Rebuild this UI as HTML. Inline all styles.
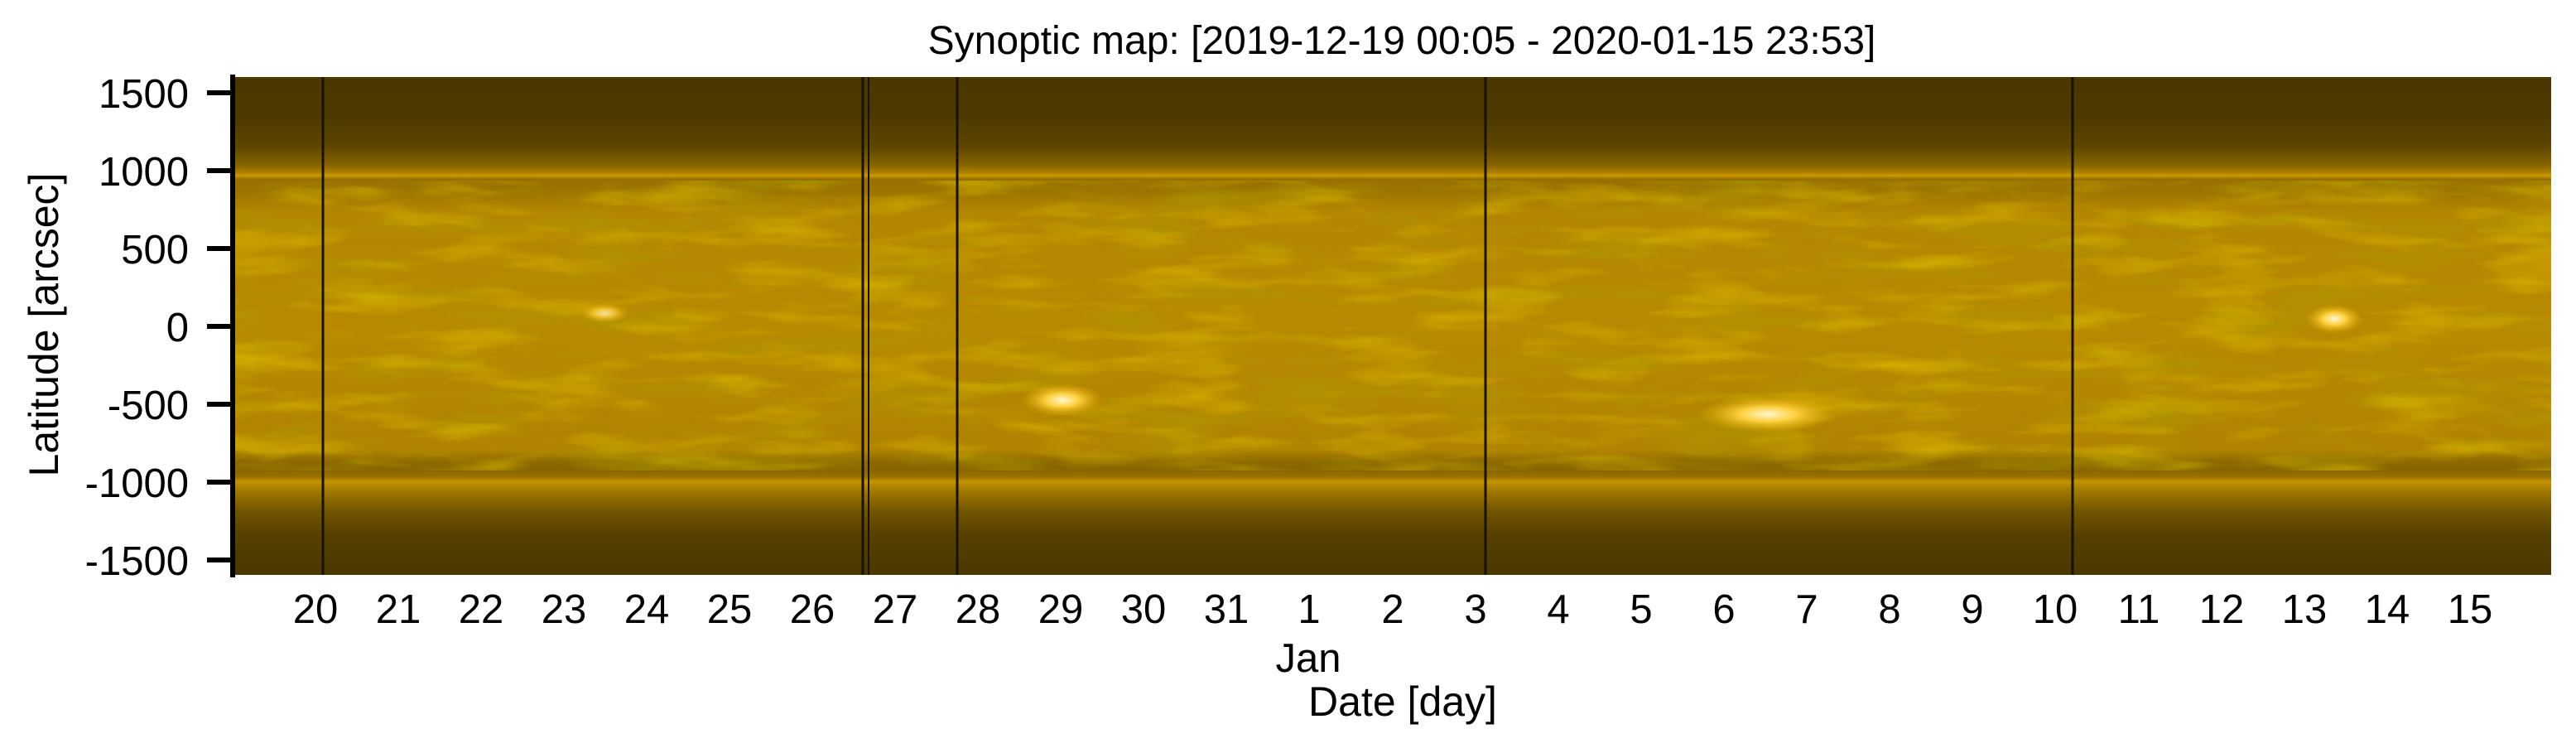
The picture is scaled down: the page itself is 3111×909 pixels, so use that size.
<!DOCTYPE html>
<html><head><meta charset="utf-8"><style>
html,body{margin:0;padding:0;background:#fff;}
body{width:3111px;height:904px;overflow:hidden;}
text{font-family:"Liberation Sans",Helvetica,Arial,sans-serif;fill:#000;}
</style></head><body>
<svg width="3111" height="904" viewBox="0 0 3111 904" xmlns="http://www.w3.org/2000/svg">
<defs>
<linearGradient id="bg" x1="0" y1="93" x2="0" y2="694" gradientUnits="userSpaceOnUse">
<stop offset="0" stop-color="#4a3700"/>
<stop offset="0.08" stop-color="#4d3900"/>
<stop offset="0.14" stop-color="#5e4600"/>
<stop offset="0.18" stop-color="#8a6700"/>
<stop offset="0.195" stop-color="#b88a00"/>
<stop offset="0.198" stop-color="#cd9a00"/>
<stop offset="0.205" stop-color="#956f00"/>
<stop offset="0.23" stop-color="#9c7500"/>
<stop offset="0.27" stop-color="#b38500"/>
<stop offset="0.5" stop-color="#b88900"/>
<stop offset="0.75" stop-color="#b08300"/>
<stop offset="0.77" stop-color="#8e6b00"/>
<stop offset="0.79" stop-color="#866500"/>
<stop offset="0.805" stop-color="#9c7500"/>
<stop offset="0.812" stop-color="#c69400"/>
<stop offset="0.825" stop-color="#a98000"/>
<stop offset="0.87" stop-color="#735600"/>
<stop offset="0.92" stop-color="#564000"/>
<stop offset="1" stop-color="#4a3700"/>
</linearGradient>
<filter id="dk" x="0" y="0" width="1" height="1">
<feTurbulence type="fractalNoise" baseFrequency="0.006 0.035" numOctaves="3" seed="3"/>
<feColorMatrix type="matrix" values="0 0 0 0 0.42  0 0 0 0 0.31  0 0 0 0 0  2.2 0 0 0 -1.0"/>
</filter>
<filter id="br" x="0" y="0" width="1" height="1">
<feTurbulence type="fractalNoise" baseFrequency="0.008 0.04" numOctaves="3" seed="11"/>
<feColorMatrix type="matrix" values="0 0 0 0 0.85  0 0 0 0 0.62  0 0 0 0 0  2.2 0 0 0 -1.05"/>
</filter>
<radialGradient id="spot"><stop offset="0" stop-color="#fff8d0"/><stop offset="0.4" stop-color="#ffd040"/><stop offset="1" stop-color="#e0a800" stop-opacity="0"/></radialGradient>
</defs>
<text x="1693" y="65" font-size="48" text-anchor="middle">Synoptic map: [2019-12-19 00:05 - 2020-01-15 23:53]</text>
<rect x="283" y="93" width="2798" height="601" fill="url(#bg)"/>
<rect x="283" y="218" width="2798" height="350" filter="url(#dk)" opacity="0.75"/>
<rect x="283" y="218" width="2798" height="350" filter="url(#br)" opacity="0.5"/>
<ellipse cx="730" cy="378" rx="30" ry="12" fill="url(#spot)" opacity="0.8"/>
<ellipse cx="1283" cy="483" rx="50" ry="20" fill="url(#spot)"/>
<ellipse cx="2135" cy="500" rx="85" ry="22" fill="url(#spot)"/>
<ellipse cx="2819" cy="385" rx="35" ry="18" fill="url(#spot)"/>
<g stroke="#1a1200" stroke-width="3">
<line x1="390" y1="93" x2="390" y2="694"/>
<line x1="1042" y1="93" x2="1042" y2="694"/>
<line x1="1049" y1="93" x2="1049" y2="694" stroke-width="2"/>
<line x1="1156" y1="93" x2="1156" y2="694"/>
<line x1="1794" y1="93" x2="1794" y2="694"/>
<line x1="2503" y1="93" x2="2503" y2="694"/>
</g>
<rect x="278" y="90" width="6" height="607" fill="#000"/>
<g fill="#000">
<rect x="250" y="109" width="30" height="6"/>
<rect x="250" y="203" width="30" height="6"/>
<rect x="250" y="297" width="30" height="6"/>
<rect x="250" y="391" width="30" height="6"/>
<rect x="250" y="485" width="30" height="6"/>
<rect x="250" y="579" width="30" height="6"/>
<rect x="250" y="673" width="30" height="6"/>
</g>
<g font-size="49" text-anchor="end">
<text x="228" y="130">1500</text>
<text x="228" y="224">1000</text>
<text x="228" y="318">500</text>
<text x="228" y="412">0</text>
<text x="228" y="506">-500</text>
<text x="228" y="600">-1000</text>
<text x="228" y="694">-1500</text>
</g>
<text transform="translate(70,392) rotate(-90)" font-size="50" text-anchor="middle">Latitude [arcsec]</text>
<g font-size="49" text-anchor="middle">
<text x="381" y="752">20</text><text x="481" y="752">21</text><text x="581" y="752">22</text><text x="681" y="752">23</text><text x="781" y="752">24</text><text x="881" y="752">25</text><text x="981" y="752">26</text><text x="1081" y="752">27</text><text x="1181" y="752">28</text><text x="1281" y="752">29</text><text x="1381" y="752">30</text><text x="1481" y="752">31</text><text x="1581" y="752">1</text><text x="1682" y="752">2</text><text x="1782" y="752">3</text><text x="1882" y="752">4</text><text x="1982" y="752">5</text><text x="2082" y="752">6</text><text x="2182" y="752">7</text><text x="2282" y="752">8</text><text x="2382" y="752">9</text><text x="2482" y="752">10</text><text x="2583" y="752">11</text><text x="2683" y="752">12</text><text x="2783" y="752">13</text><text x="2883" y="752">14</text><text x="2983" y="752">15</text>
</g>
<text x="1580" y="811" font-size="49" text-anchor="middle">Jan</text>
<text x="1694" y="864" font-size="50" text-anchor="middle">Date [day]</text>
</svg>
</body></html>
